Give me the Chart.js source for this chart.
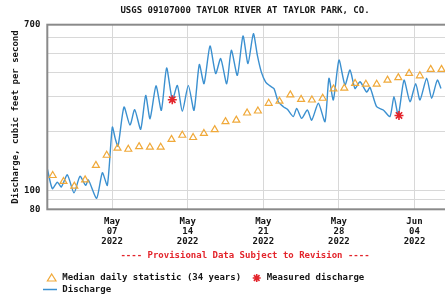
<!DOCTYPE html>
<html><head><meta charset="utf-8">
<script src="https://cdn.jsdelivr.net/npm/chart.js@4.4.1/dist/chart.umd.min.js"></script>
<style>
html,body{margin:0;padding:0;overflow:hidden;background:#fff;width:445px;height:294px}
#wrap{position:absolute;left:0;top:0;width:490px;height:294px}
</style>
</head><body><div id="wrap"><canvas id="c" width="490" height="294"></canvas></div>
<script>
// ---------- text ----------
const TITLE = "USGS 09107000 TAYLOR RIVER AT TAYLOR PARK, CO.";
const Y_TITLE = "Discharge, cubic feet per second";
const PROVISIONAL = "---- Provisional Data Subject to Revision ----";
const legendLabels = ["Median daily statistic (34 years)", "Measured discharge", "Discharge"];

// ---------- axes ----------
const xTickDates = ["05-07", "05-14", "05-21", "05-28", "06-04"];
const xTickLabels = [["May","07","2022"],["May","14","2022"],["May","21","2022"],["May","28","2022"],["Jun","04","2022"]];
const yGridValues = [80, 90, 100, 200, 300, 400, 500, 600, 700];
const yLabelValues = [80, 100, 700];

// ---------- data ----------
const medianDates = ["05-01","05-02","05-03","05-04","05-05","05-06","05-07","05-08","05-09","05-10",
  "05-11","05-12","05-13","05-14","05-15","05-16","05-17","05-18","05-19","05-20",
  "05-21","05-22","05-23","05-24","05-25","05-26","05-27","05-28","05-29","05-30",
  "05-31","06-01","06-02","06-03","06-04","06-05","06-06"];
const medianValues = [119,111,105,113,134,151,164,162,167,166,
  166,182,191,186,195,204,224,228,248,254,
  278,285,307,291,289,295,329,332,351,348,
  348,365,376,395,384,414,414];

const measuredTimes = ["05-12 13:45", "06-02 13:30"];
const measuredValues = [290, 241];

const dischargeTimes = [
  "05-01 00:00","05-01 11:10","05-01 22:20","05-02 07:10","05-02 20:30","05-03 11:20","05-04 00:40","05-04 13:15","05-04 19:10","05-05 13:40",
  "05-06 02:20","05-06 13:25","05-07 00:30","05-07 07:10","05-07 13:10","05-08 02:25","05-08 15:45","05-09 02:10","05-09 15:30","05-10 02:40",
  "05-10 12:15","05-11 01:35","05-11 13:25","05-12 01:10","05-12 13:50","05-13 01:00","05-13 12:05","05-14 01:25","05-14 14:00","05-15 01:50",
  "05-15 12:15","05-16 01:35","05-16 14:10","05-17 01:15","05-17 14:40","05-18 01:00","05-18 14:20","05-19 02:55","05-19 14:00","05-20 01:55",
  "05-20 10:50","05-20 19:40","05-21 05:15","05-21 14:55","05-21 23:45","05-22 09:20","05-22 20:35","05-23 05:30","05-23 18:45","05-24 02:10",
  "05-24 13:10","05-25 01:55","05-25 11:30","05-26 02:25","05-26 17:05","05-27 01:55","05-27 11:35","05-28 00:10","05-28 13:30","05-29 00:40",
  "05-29 11:45","05-29 22:55","05-30 13:40","05-30 21:05","05-31 11:45","06-01 02:40","06-01 17:30","06-02 02:25","06-02 12:00","06-03 00:45",
  "06-03 14:00","06-04 02:40","06-04 12:15","06-05 03:05","06-05 14:10","06-06 02:40","06-06 10:50"];
const dischargeValues = [
  129,102,110,104,120,97,118,106,113,91,
  123,106,210,183,168,266,215,258,205,305,
  232,341,256,421,290,343,253,343,256,438,
  350,545,394,470,350,518,386,613,443,630,
  488,401,357,341,330,283,267,259,238,262,
  233,257,228,278,224,373,289,462,345,411,
  331,358,317,335,267,257,238,300,242,365,
  283,350,289,373,295,365,331];

// ---------- helpers ----------
const START = Date.UTC(2022, 4, 1);
function toDay(s) {
  const [md, hm] = s.split(" ");
  const [mo, d] = md.split("-").map(Number);
  let h = 12, mi = 0;
  if (hm) { [h, mi] = hm.split(":").map(Number); }
  return (Date.UTC(2022, mo - 1, d, h, mi) - START) / 86400000;
}
const xTickDays = xTickDates.map(d => toDay(d + " 00:00"));
const dischargePts = dischargeTimes.map((t, i) => ({x: toDay(t), y: dischargeValues[i]}));
const medianPts = medianDates.map((t, i) => ({x: toDay(t), y: medianValues[i]}));
const measuredPts = measuredTimes.map((t, i) => ({x: toDay(t), y: measuredValues[i]}));

const FONT = '"DejaVu Sans Mono", "Liberation Mono", monospace';
const BLUE = '#3b90d0', ORANGE = '#f0a93a', RED = '#e3242b', TEXT = '#151515';

const decor = {
  id: 'decor',
  afterDraw(chart) {
    const ctx = chart.ctx, a = chart.chartArea;
    ctx.save();
    // plot frame
    ctx.strokeStyle = '#8a8a8a'; ctx.lineWidth = 2;
    ctx.strokeRect(a.left, a.top, a.right - a.left, a.bottom - a.top);
    // title
    ctx.fillStyle = TEXT; ctx.font = 'bold 9px ' + FONT;
    ctx.textAlign = 'center'; ctx.textBaseline = 'middle';
    ctx.fillText(TITLE, 245, 11);
    // provisional
    ctx.fillStyle = RED;
    ctx.fillText(PROVISIONAL, 245, 255.5);
    // legend
    ctx.textAlign = 'left'; ctx.fillStyle = TEXT;
    const r1 = 278, r2 = 289.5;
    ctx.strokeStyle = ORANGE; ctx.lineWidth = 1.2;
    ctx.beginPath(); ctx.moveTo(51.7, r1 - 4); ctx.lineTo(56, r1 + 3); ctx.lineTo(47.4, r1 + 3); ctx.closePath(); ctx.stroke();
    ctx.fillText(legendLabels[0], 62.3, r1);
    ctx.strokeStyle = RED; ctx.lineWidth = 1.6;
    const sx = 256.7, rr = 4;
    ctx.beginPath();
    for (let k = 0; k < 4; k++) {
      const ang = k * Math.PI / 4;
      ctx.moveTo(sx + Math.cos(ang) * rr, r1 + Math.sin(ang) * rr);
      ctx.lineTo(sx - Math.cos(ang) * rr, r1 - Math.sin(ang) * rr);
    }
    ctx.stroke();
    ctx.fillText(legendLabels[1], 266.7, r1);
    ctx.strokeStyle = BLUE; ctx.lineWidth = 1.5;
    ctx.beginPath(); ctx.moveTo(43, r2); ctx.lineTo(57, r2); ctx.stroke();
    ctx.fillText(legendLabels[2], 62.3, r2);
    ctx.restore();
  }
};

new Chart(document.getElementById('c'), {
  type: 'line',
  data: {
    datasets: [
      {label: legendLabels[2], data: dischargePts, borderColor: BLUE, borderWidth: 1.4, pointRadius: 0, tension: 0.22, fill: false, order: 3},
      {label: legendLabels[0], data: medianPts, showLine: false, pointStyle: 'triangle', pointRadius: 4,
        borderColor: ORANGE, backgroundColor: 'rgba(255,255,255,0)', pointBorderWidth: 1.2, order: 2},
      {label: legendLabels[1], data: measuredPts, showLine: false, pointStyle: 'star', pointRadius: 4.5,
        borderColor: RED, backgroundColor: RED, pointBorderWidth: 1.6, order: 1}
    ]
  },
  options: {
    responsive: false, animation: false, devicePixelRatio: 1,
    layout: {padding: {left: 0, top: 24.7, right: 21.5, bottom: 0}},
    plugins: {legend: {display: false}, tooltip: {enabled: false}, title: {display: false}},
    scales: {
      x: {
        type: 'linear', min: 0, max: 39,
        afterFit(s) { s.height = 84.7; },
        afterBuildTicks(s) { s.ticks = xTickDays.map(v => ({value: v})); },
        grid: {color: '#d8d8d8', lineWidth: 1, drawTicks: false},
        border: {display: false},
        ticks: {padding: 7, autoSkip: false, maxRotation: 0, color: TEXT,
          font: {family: FONT, weight: 'bold', size: 9, lineHeight: 10 / 9},
          callback: (v, i) => xTickLabels[i]}
      },
      y: {
        type: 'logarithmic', min: 80, max: 700,
        afterFit(s) { s.width = 47.3; },
        afterBuildTicks(s) { s.ticks = yGridValues.map(v => ({value: v})); },
        grid: {color: '#d8d8d8', lineWidth: 1, drawTicks: false},
        border: {display: false},
        ticks: {padding: 7, autoSkip: false, color: TEXT,
          font: {family: FONT, weight: 'bold', size: 9},
          callback: (v) => yLabelValues.includes(v) ? String(v) : ''},
        title: {display: true, text: Y_TITLE, color: TEXT, padding: {top: 10, bottom: 0},
          font: {family: FONT, weight: 'bold', size: 9}}
      }
    }
  },
  plugins: [decor]
});
</script>
</body></html>
